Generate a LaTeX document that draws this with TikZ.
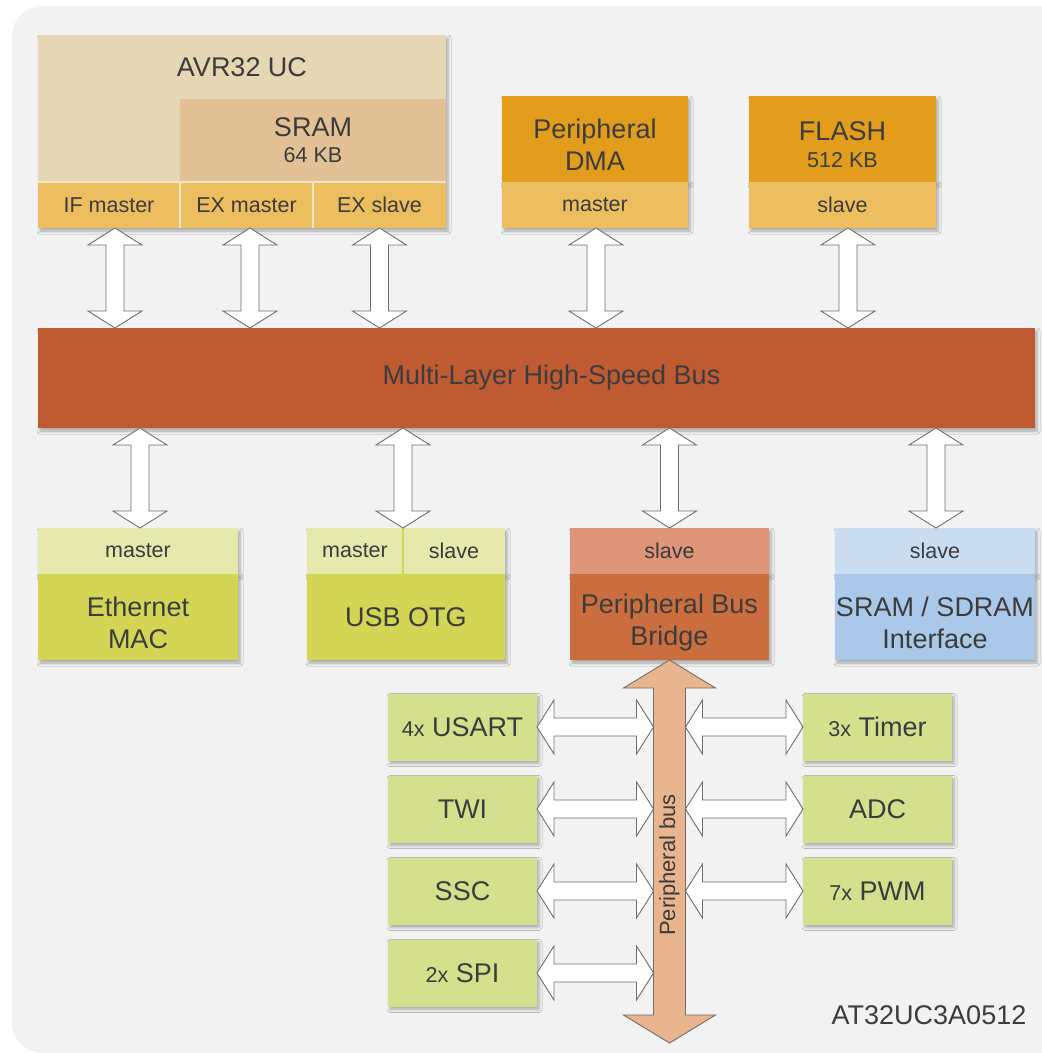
\documentclass[tikz,border=0pt]{standalone}
\usepackage{fontspec}
\setmainfont{Liberation Sans}
\usetikzlibrary{positioning,calc,shadows.blur}

\definecolor{bgcol}{HTML}{F2F2F2}
\definecolor{txtcol}{HTML}{3C3C3C}
\definecolor{linecol}{HTML}{6E6E6E}
\definecolor{divcol}{HTML}{F4E6C2}
\definecolor{avrcol}{HTML}{E5D7B3}
\definecolor{sramcol}{HTML}{E2C197}
\definecolor{portcol}{HTML}{ECBE5F}
\definecolor{dmacol}{HTML}{E29D1D}
\definecolor{buscol}{HTML}{BE5B33}
\definecolor{ethtopcol}{HTML}{E6E9AE}
\definecolor{ethcol}{HTML}{D3D655}
\definecolor{brtopcol}{HTML}{DE957A}
\definecolor{brcol}{HTML}{CB6E3F}
\definecolor{memtopcol}{HTML}{C9DCF0}
\definecolor{memcol}{HTML}{AAC9E8}
\definecolor{percol}{HTML}{D5E08E}
\definecolor{pbuscol}{HTML}{E9B58E}

\newcommand\titlefont{\fontsize{27}{32}\selectfont}
\newcommand\portfont{\fontsize{21.5}{26}\selectfont}
\newcommand\busfont{\fontsize{22}{26}\selectfont}

\tikzset{
  box/.style = {rectangle, inner sep=0pt, outer sep=0pt, text=txtcol, font=\titlefont, align=center},
  shadowed/.style = {blur shadow={shadow xshift=2pt, shadow yshift=-3pt, shadow blur radius=3pt, shadow opacity=30}},
  port/.style = {box, font=\portfont, minimum height=46pt},
  part/.style = {box, shadowed, minimum height=86pt},
  periph/.style = {box, shadowed, fill=percol, minimum width=149pt, minimum height=67pt},
  title/.style = {label={[box, yshift=-6pt]center:#1}},
  divider/.style = {draw=divcol, line width=1.5pt},
  fatarrow/.style n args = {3}{to path={
      (\tikztostart)
      -- ($(\tikztostart)!#1!(\tikztotarget)!#2!90:(\tikztotarget)$)
      -- ($(\tikztostart)!#1!(\tikztotarget)!#3!90:(\tikztotarget)$)
      -- ($(\tikztotarget)!#1!(\tikztostart)!#3!270:(\tikztostart)$)
      -- ($(\tikztotarget)!#1!(\tikztostart)!#2!270:(\tikztostart)$)
      -- (\tikztotarget)
      -- ($(\tikztotarget)!#1!(\tikztostart)!#2!90:(\tikztostart)$)
      -- ($(\tikztotarget)!#1!(\tikztostart)!#3!90:(\tikztostart)$)
      -- ($(\tikztostart)!#1!(\tikztotarget)!#3!270:(\tikztotarget)$)
      -- ($(\tikztostart)!#1!(\tikztotarget)!#2!270:(\tikztotarget)$)
      -- cycle}},
  busarrow/.style = {fatarrow={17pt}{27pt}{9pt}, draw=linecol, fill=white, line width=0.9pt},
  pbusarrow/.style = {fatarrow={28pt}{46pt}{16pt}, draw=linecol, fill=pbuscol, line width=0.9pt}
}

\begin{document}
\begin{tikzpicture}[x=1pt, y=-1pt]
  \useasboundingbox (0,0) rectangle (1042,1053);
  \fill[bgcol, rounded corners=30pt] (12,6) rectangle (1070,1053);

  % CPU and its ports
  \node (avr) [box, shadowed, fill=avrcol, minimum width=408pt, minimum height=193pt, anchor=north west] at (38,35) {};
  \node (avrname) [box] at ([yshift=-32pt]avr.north) {AVR32 UC};
  \node (sram) [box, fill=sramcol, minimum width=266pt, minimum height=83pt, anchor=north east] at ([yshift=-64pt]avr.north east) {SRAM\\[-6pt]{\portfont 64 KB}};
  \node (ifm) [port, fill=portcol, minimum width=142pt, anchor=south west] at (avr.south west) {IF master};
  \node (exm) [port, fill=portcol, minimum width=133pt, right=0pt of ifm] {EX master};
  \node (exs) [port, fill=portcol, minimum width=133pt, right=0pt of exm] {EX slave};
  \draw[divider] (ifm.north west) -- (exs.north east);
  \draw[divider] (ifm.north east) -- (ifm.south east);
  \draw[divider] (exm.north east) -- (exm.south east);

  % DMA and flash
  \node (dma) [part, fill=dmacol, minimum width=186pt, anchor=north west, title={Peripheral\\DMA}] at (502,96) {};
  \node (dmaport) [port, shadowed, fill=portcol, minimum width=186pt, below=0pt of dma] {master};
  \node (flash) [part, fill=dmacol, minimum width=187pt, anchor=north west, title={FLASH\\[-5pt]{\portfont 512 KB}}] at (749,96) {};
  \node (flashport) [port, shadowed, fill=portcol, minimum width=187pt, below=0pt of flash] {slave};

  % bus
  \node (bus) [box, shadowed, fill=buscol, minimum width=997pt, minimum height=100pt, anchor=north west,
    label={[box, xshift=15pt]center:Multi-Layer High-Speed Bus}] at (38,328) {};

  % lower blocks
  \node (ethport) [port, shadowed, fill=ethtopcol, minimum width=200pt, anchor=north west] at (38,528) {master};
  \node (eth) [part, fill=ethcol, minimum width=200pt, below=0pt of ethport, title={Ethernet\\MAC}] {};
  \node (usbm) [port, shadowed, fill=ethtopcol, minimum width=96pt, anchor=north west] at (307,528) {master};
  \node (usbs) [port, shadowed, fill=ethtopcol, minimum width=102pt, right=0pt of usbm] {slave};
  \node (usb) [part, fill=ethcol, minimum width=198pt, anchor=north west] at (usbm.south west) {USB OTG};
  \draw[draw=ethcol, line width=1.5pt] (usbm.north east) -- (usbm.south east);
  \node (brport) [port, shadowed, fill=brtopcol, minimum width=199pt, anchor=north west] at (570,528) {slave};
  \node (bridge) [part, fill=brcol, minimum width=199pt, below=0pt of brport, title={Peripheral Bus\\Bridge}] {};
  \node (memport) [port, shadowed, fill=memtopcol, minimum width=200pt, anchor=north west] at (835,528) {slave};
  \node (mem) [part, fill=memcol, minimum width=200pt, below=0pt of memport, title={SRAM / SDRAM\\Interface}] {};

  % peripherals
  \node (usart) [periph] at (462.5,727) {{\portfont 4x} USART};
  \node (twi) [periph, below=15pt of usart] {TWI};
  \node (ssc) [periph, below=15pt of twi] {SSC};
  \node (spi) [periph, below=15pt of ssc] {{\portfont 2x} SPI};
  \node (timer) [periph] at (877.5,727) {{\portfont 3x} Timer};
  \node (adc) [periph, below=15pt of timer] {ADC};
  \node (pwm) [periph, below=15pt of adc] {{\portfont 7x} PWM};

  \node (partno) [box] at (929,1015) {AT32UC3A0512};

  % bus connections
  \foreach \p/\s in {ifm/6, exm/3.5, exs/0, dmaport/1, flashport/5.5}
    \draw[busarrow] ($(\p.south)+(\s,0)$) to ($(\p.south |- bus.north)+(\s,0)$);
  \foreach \p/\s in {ethport/2, brport/0, memport/1}
    \draw[busarrow] ($(\p.north |- bus.south)+(\s,0)$) to ($(\p.north)+(\s,0)$);
  \draw[busarrow] (usbm.north east |- bus.south) to (usbm.north east);

  % peripheral bus
  \coordinate (pbusend) at ($(bridge.south)+(0,383)$);
  \coordinate (pbl) at ($(bridge.south)+(-16,0)$);
  \coordinate (pbr) at ($(bridge.south)+(16,0)$);
  \foreach \p in {usart, twi, ssc, spi}
    \draw[busarrow] (\p.east) to (\p.east -| pbl);
  \foreach \p in {timer, adc, pwm}
    \draw[busarrow] (pbr |- \p.west) to (\p.west);
  \draw[pbusarrow] (bridge.south) to (pbusend);
  \node (pbuslabel) [box, font=\busfont, rotate=90] at ($(bridge.south)!0.535!(pbusend)$) {Peripheral bus};
\end{tikzpicture}
\end{document}
